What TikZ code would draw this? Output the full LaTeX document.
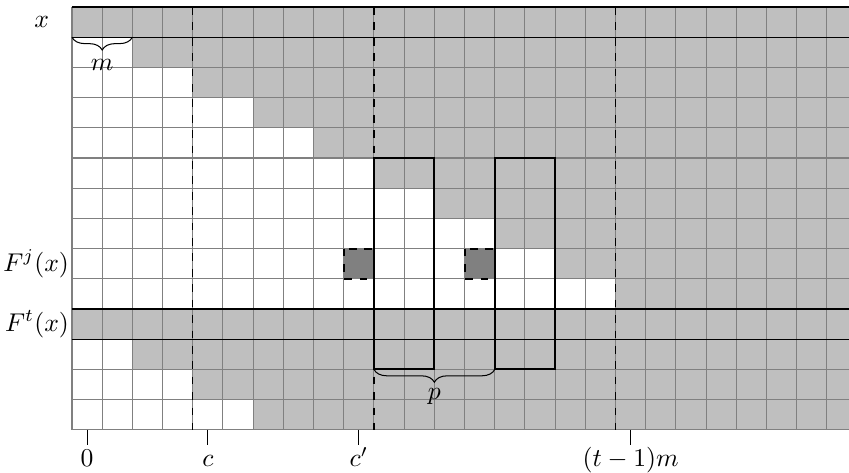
\documentclass[tikz,border=0pt]{standalone}
\usetikzlibrary{decorations.pathreplacing}
\begin{document}
\begin{tikzpicture}[x=0.4134cm,y=0.4134cm,
  gridline/.style={draw=gray, line width=0.4pt},
  shadecell/.style={fill=lightgray},
  sepline/.style={draw=black, line width=0.5pt},
  vdash/.style={draw=black, dashed, line width=0.5pt},
  window/.style={draw=black, thick},
  hole/.style={fill=gray, draw=black, thick, dashed},
  tickline/.style={draw=black, line width=0.4pt},
  brc/.style={decorate, decoration={brace, amplitude=5pt, mirror}, line width=0.4pt},
  lbl/.style={inner sep=1pt}]
\coordinate (bbA) at (-2.384,0.232);
\coordinate (bbB) at (25.73,-15.43);
\useasboundingbox (bbA) rectangle (bbB);
\begin{scope}
\clip (-3,1) rectangle (25.73,-16);
% gray region
\foreach \r/\w in {0/0,1/2,2/4,3/6,4/8,5/10,6/12,7/14,8/16,9/18,10/0,11/2,12/4,13/6}
  \fill[shadecell] (\w,-\r) rectangle (27,-\r-1);
% grid
\foreach \i in {0,...,26} \draw[gridline] (\i,0) -- (\i,-14);
\foreach \j in {0,...,14} \draw[gridline] (0,-\j) -- (27,-\j);
% holes
\draw[hole] (9,-8) rectangle (10,-9);
\draw[hole] (13,-8) rectangle (14,-9);
% separating lines
\foreach \j in {0,1,10,11} \draw[sepline] (0,-\j) -- (27,-\j);
% dashed columns
\foreach \i in {4,10,18} \draw[vdash] (\i,0) -- (\i,-14);
% windows
\draw[window] (10,-5) rectangle (12,-12);
\draw[window] (14,-5) rectangle (16,-12);
\end{scope}
% braces
\coordinate (mA) at (0,-1);
\coordinate (mB) at (2,-1);
\draw[brc] (mA) -- (mB);
\node[lbl, anchor=base] (mlab) at (1,-2.09) {$m$};
\coordinate (pA) at (10,-12);
\coordinate (pB) at (14,-12);
\draw[brc] (pA) -- (pB);
\node[lbl, anchor=base] (plab) at (12,-13.0) {$p$};
% row labels
\node[lbl] (xlab) at (-1,-0.5) {$x$};
\node[lbl, anchor=east] (fjlab) at (0,-8.5) {$F^j(x)$};
\node[lbl, anchor=east] (ftlab) at (0,-10.5) {$F^t(x)$};
% ticks
\foreach \i/\n/\t in {0.5/t0/{0},4.5/tc/{c},9.5/tcp/{c'},18.5/ttm/{(t-1)m}} {
  \coordinate (\n) at (\i,-14);
  \draw[tickline] (\n) -- ++(0,-0.5);
  \node[lbl, anchor=base] (\n lab) at (\i,-15.23) {$\t$};
}
\end{tikzpicture}
\end{document}
